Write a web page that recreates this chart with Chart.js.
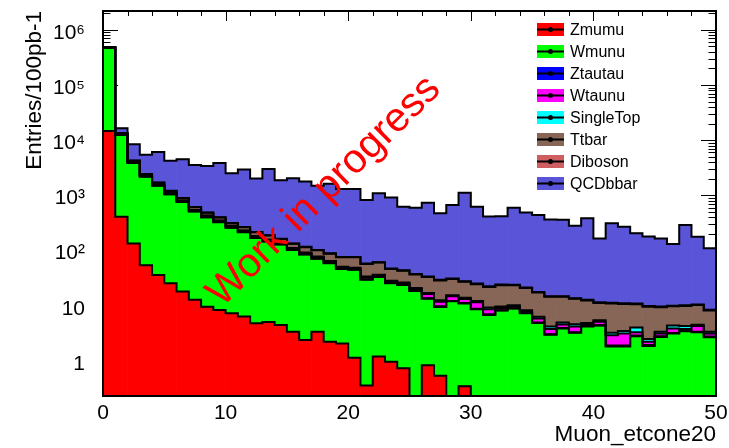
<!DOCTYPE html>
<html>
<head>
<meta charset="utf-8">
<script src="https://cdn.jsdelivr.net/npm/chart.js@4/dist/chart.umd.min.js"></script>
<style>
html,body{margin:0;padding:0;background:#ffffff;}
canvas{display:block;}
</style>
</head>
<body>
<canvas id="c" width="729" height="448"></canvas>
<script>
// ---- bins (Muon_etcone20, 0..50, 1 GeV bins) ----
const binEdges = [0,1,2,3,4,5,6,7,8,9,10,11,12,13,14,15,16,17,18,19,20,21,22,23,24,25,26,27,28,29,30,31,32,33,34,35,36,37,38,39,40,41,42,43,44,45,46,47,48,49,50];

// ---- sample names (stack order, bottom first) ----
const sampleNames = ['Zmumu','Wmunu','Ztautau','Wtaunu','SingleTop','Ttbar','Diboson','QCDbbar'];
const sampleColors = ['#ff0000','#00ff00','#0000ff','#ff00ff','#00ffff','#876657','#cf5e61','#5954d8'];

// ---- series values (Entries/100pb-1 per bin) ----
const zmumu = [14700,409,135,54.5,36,25.5,18.1,12.8,9.6,8.4,7.3,6.4,4.8,5.1,4.5,3.4,2.4,3.4,2.24,2.07,1.14,0.36,1.2,0.97,0.74,0,0.84,0.54,0,0.35,0,0,0,0,0,0,0,0,0,0,0,0,0,0,0,0,0,0,0,0];
const wmunu = [460000,11960,3709,2125,1466,1018,739,499,390,317,253,208,164,141,124,99.4,82.5,68,56.8,44.4,43.7,29.4,32.1,24.5,23,18.5,12.6,9.0,12.1,10.7,8.67,6.82,8.17,8.93,7.33,4.89,2.98,3.89,3.23,4.22,4.38,1.83,1.83,2.81,1.87,2.73,3.14,3.47,3.31,2.69];
const ztautau = [430,149,38.5,19,11.3,8.4,6.5,4.6,3.7,3.2,2.7,2.25,1.8,1.6,1.3,1.06,0.88,0.8,0.7,0.6,0.5,0.43,0.43,0.35,0.34,0.26,0.26,0.26,0.17,0.17,0.17,0.17,0.13,0.13,0.08,0.08,0.08,0.08,0.08,0.08,0.08,0.08,0.08,0.08,0.08,0.08,0.08,0.08,0.08,0.08];
const wtaunu = [8600,496,145,85.6,61,46.7,37,27.6,22.8,18.2,14.5,11.7,9.8,8,6.2,5.3,4.85,4.4,3.9,2.6,2.2,2.6,1.74,1.7,1.55,1.29,2.57,2.04,2.56,2.04,2.72,1.69,0.85,0.68,0.34,0.93,0.75,0.59,0.92,0.25,0.67,1.0,1.25,0.42,0.29,0.33,0.66,0.25,0.91,0.37];
const singletop = [110,50,24,14.3,11.3,9.3,7.4,6.4,5.5,4.5,4.1,3.6,3.1,2.7,2.2,1.95,1.76,1.6,1.4,1.3,1.2,1.13,1.04,0.95,0.86,0.86,0.77,0.77,0.68,0.68,0.59,0.59,0.51,0.51,0.51,0.42,0.42,0.42,0.42,0.33,0.33,0.33,0.33,0.75,0.25,0.25,0.5,0.5,0.25,0.25];
const ttbar = [650,258,193,143,113,93.4,79,64,55,45.5,32.5,32.4,31.3,29.4,24,21.2,22.9,22.9,22.8,24.4,27,23.4,24.3,18.1,16.8,15.9,16.2,16.2,14.9,13.2,12.5,12.7,14,13.4,12.7,11.1,10.3,9.55,8.7,7.6,5.8,7.74,7.3,6.65,7.13,6.05,5.4,5.64,5.73,4.8];
const diboson = [160,40,19,11.4,8.5,6.5,5.6,4.6,4.1,3.6,3.2,2.7,2.7,2.2,1.8,1.8,1.6,1.4,1.3,1.2,1.1,1.04,0.95,0.86,0.86,0.77,0.77,0.68,0.68,0.6,0.59,0.51,0.51,0.51,0.42,0.42,0.42,0.42,0.33,0.33,0.33,0.33,0.33,0.25,0.25,0.25,0.25,0.25,0.25,0.25];
const qcdbbar = [2200,3150,4154,2968,4411,3027,3641,2926,2908,3442,2201,2692,1815,2818,1723,1899,1674,1399,1528,1233,1224,764,1028,870,580,559,705,445,636,1090,600,391,395,573,467,424,352,348,267,373,154,300,259,196,171,156,122,282,167,101.5];

// ---- axis ticks / labels ----
const xTickValues = [0,10,20,30,40,50];
const xMinorStep = 2;
const yTickValues = [1,10,100,1000,10000,100000,1000000];
const yTickLabels = ['1','10','10\u00B2','10\u00B3','10\u2074','10\u2075','10\u2076'];
const yMin = 0.232, yMax = 2.19e6;
const xTitle = 'Muon_etcone20';
const yTitle = 'Entries/100pb-1';
const watermark = 'Work in progress';

const FONT = '"Liberation Sans", Arial, Helvetica, sans-serif';
Chart.defaults.font.family = FONT;
Chart.defaults.color = '#000';

const series = [zmumu, wmunu, ztautau, wtaunu, singletop, ttbar, diboson, qcdbbar];
const nBins = binEdges.length - 1;
const centers = binEdges.slice(0, nBins).map((e, i) => (e + binEdges[i + 1]) / 2);

// stacked bars
const barSets = series.map((s, k) => ({
  type: 'bar',
  label: sampleNames[k],
  data: s.map((v, i) => ({x: centers[i], y: v})),
  backgroundColor: sampleColors[k],
  borderWidth: 0,
  barPercentage: 1.0,
  categoryPercentage: 1.0,
  stack: 'mc',
  order: 2
}));

// black step outlines at each cumulative level
const cumulative = [];
let run = new Array(nBins).fill(0);
series.forEach(s => { run = run.map((r, i) => r + s[i]); cumulative.push(run.slice()); });
const lineSets = cumulative.map((c, k) => ({
  type: 'line',
  label: 'outline ' + sampleNames[k],
  data: binEdges.map((e, i) => {
    const v = c[Math.min(i, nBins - 1)];
    return {x: e, y: v > 0 ? v : yMin / 10};
  }),
  borderColor: '#000',
  borderWidth: 2,
  pointRadius: 0,
  fill: false,
  stepped: true,
  order: 1
}));

const noPad = s => { s.paddingTop = 0; s.paddingBottom = 0; s.paddingLeft = 0; s.paddingRight = 0; };

const rootStyle = {
  id: 'rootStyle',
  beforeDatasetsDraw(chart) {
    const {ctx, chartArea: a, scales: {x, y}} = chart;
    ctx.save();
    ctx.strokeStyle = '#000';
    ctx.lineWidth = 1;
    ctx.beginPath();
    for (let v = binEdges[0]; v <= binEdges[nBins] + 1e-9; v += xMinorStep) {
      const px = Math.round(x.getPixelForValue(v)) + 0.5;
      const len = (xTickValues.includes(v)) ? 10 : 5;
      ctx.moveTo(px, a.top); ctx.lineTo(px, a.top + len);
      ctx.moveTo(px, a.bottom); ctx.lineTo(px, a.bottom - len);
    }
    for (let e = -1; e <= 6; e++) {
      for (let m = 1; m <= 9; m++) {
        const v = m * Math.pow(10, e);
        if (v < yMin || v > yMax) continue;
        const py = Math.round(y.getPixelForValue(v)) + 0.5;
        const len = m === 1 ? 15 : 7.5;
        ctx.moveTo(a.left, py); ctx.lineTo(a.left + len, py);
        ctx.moveTo(a.right, py); ctx.lineTo(a.right - len, py);
      }
    }
    ctx.stroke();
    ctx.restore();
  },
  afterDatasetsDraw(chart) {
    const {ctx, chartArea: a} = chart;
    ctx.save();
    // frame
    ctx.strokeStyle = '#000';
    ctx.lineWidth = 2;
    ctx.strokeRect(a.left, a.top, a.right - a.left, a.bottom - a.top);
    // legend
    const lx = 537, ly0 = 29.5, dy = 22, bw = 27, bh = 13, tx = 570;
    ctx.font = '16px ' + FONT;
    ctx.textBaseline = 'middle';
    ctx.textAlign = 'left';
    sampleNames.forEach((name, k) => {
      const cy = ly0 + k * dy;
      ctx.fillStyle = sampleColors[k];
      ctx.fillRect(lx, cy - bh / 2, bw, bh);
      ctx.strokeStyle = '#000';
      ctx.lineWidth = 2;
      ctx.beginPath(); ctx.moveTo(lx, cy); ctx.lineTo(lx + bw, cy); ctx.stroke();
      ctx.fillStyle = '#000';
      ctx.beginPath(); ctx.arc(lx + bw / 2, cy, 2.5, 0, 2 * Math.PI); ctx.fill();
      ctx.fillText(name, tx, cy + 1);
    });
    // watermark
    ctx.translate(222, 308);
    ctx.rotate(-44.6 * Math.PI / 180);
    ctx.font = '41px ' + FONT;
    ctx.fillStyle = '#ff0000';
    ctx.textBaseline = 'alphabetic';
    ctx.fillText(watermark, 0, 0);
    ctx.restore();
  }
};

new Chart(document.getElementById('c'), {
  type: 'bar',
  data: { datasets: [...barSets, ...lineSets] },
  options: {
    responsive: false,
    animation: false,
    devicePixelRatio: 1,
    events: [],
    layout: { padding: { top: 11, right: 13, left: 0, bottom: 0 } },
    plugins: { legend: { display: false }, tooltip: { enabled: false } },
    scales: {
      x: {
        type: 'linear',
        min: binEdges[0], max: binEdges[nBins],
        offset: false,
        grid: { display: false, drawTicks: false, offset: false },
        border: { display: false },
        afterBuildTicks: s => { s.ticks = xTickValues.map(v => ({value: v})); },
        afterFit: s => { s.height = 52; noPad(s); },
        ticks: { font: { size: 21 }, color: '#000', padding: 5, maxRotation: 0, autoSkip: false },
        title: { display: true, text: xTitle, align: 'end', font: { size: 22.5 }, color: '#000', padding: { top: 0, bottom: 0 } }
      },
      y: {
        type: 'logarithmic',
        min: yMin, max: yMax,
        grid: { display: false, drawTicks: false },
        border: { display: false },
        afterBuildTicks: s => { s.ticks = yTickValues.map(v => ({value: v})); },
        afterFit: s => { s.width = 103; noPad(s); },
        ticks: {
          font: { size: 21 }, color: '#000', padding: 18, labelOffset: 3, autoSkip: false,
          callback: (v) => { const i = yTickValues.indexOf(v); return i >= 0 ? yTickLabels[i] : ''; }
        },
        title: { display: true, text: yTitle, align: 'end', font: { size: 22.5 }, color: '#000', padding: { top: 21, bottom: 0 } }
      }
    }
  },
  plugins: [rootStyle]
});
</script>
</body>
</html>
